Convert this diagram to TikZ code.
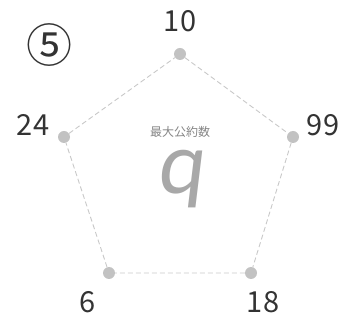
\documentclass[tikz,border=0pt]{standalone}
\usepackage{fontspec}
\setmainfont{Noto Sans CJK JP}
\newfontfamily\numfont{Noto Sans CJK JP}
\newfontfamily\qfont[FakeSlant=0.12]{Lato}
\definecolor{txt}{HTML}{333333}
\definecolor{dotc}{HTML}{C2C2C2}
\definecolor{linec}{HTML}{C8C8C8}
\definecolor{qc}{HTML}{A8A8A8}
\definecolor{labc}{HTML}{858585}
\tikzset{
  vdot/.style={circle,fill=dotc,inner sep=0pt,minimum size=12pt},
  edge/.style={draw=linec,dashed,dash pattern=on 5pt off 3pt,line width=0.9pt},
  num/.style={text=txt,font=\numfont\fontsize{29}{29}\selectfont,inner sep=0pt}
}
\begin{document}
\begin{tikzpicture}[x=1pt,y=-1pt]
\useasboundingbox (0,0) rectangle (351,320);
\node[vdot] (t) at (180,54) {};
\node[vdot] (l) at (64,137) {};
\node[vdot] (r) at (293,137) {};
\node[vdot] (bl) at (109,273) {};
\node[vdot] (br) at (251,273) {};
\draw[edge] (t) -- (r) -- (br) -- (bl) -- (l) -- (t);
\node[num] (n10) at (180,21) {10};
\node[num] (n24) at (33,125) {24};
\node[num] (n99) at (323,125) {99};
\node[num] (n6) at (88,302) {6};
\node[num] (n18) at (263,302) {18};
\node[text=txt,font=\numfont\fontsize{46}{46}\selectfont,inner sep=0pt] (c5) at (49,45) {⑤};
\node[text=labc,font=\fontsize{12}{12}\selectfont,inner sep=0pt] (lab) at (180,132) {最大公約数};
\node[text=qc,font=\qfont\fontsize{84}{84}\selectfont,inner sep=0pt,anchor=base] (q) at (180,194) {q};
\end{tikzpicture}
\end{document}
